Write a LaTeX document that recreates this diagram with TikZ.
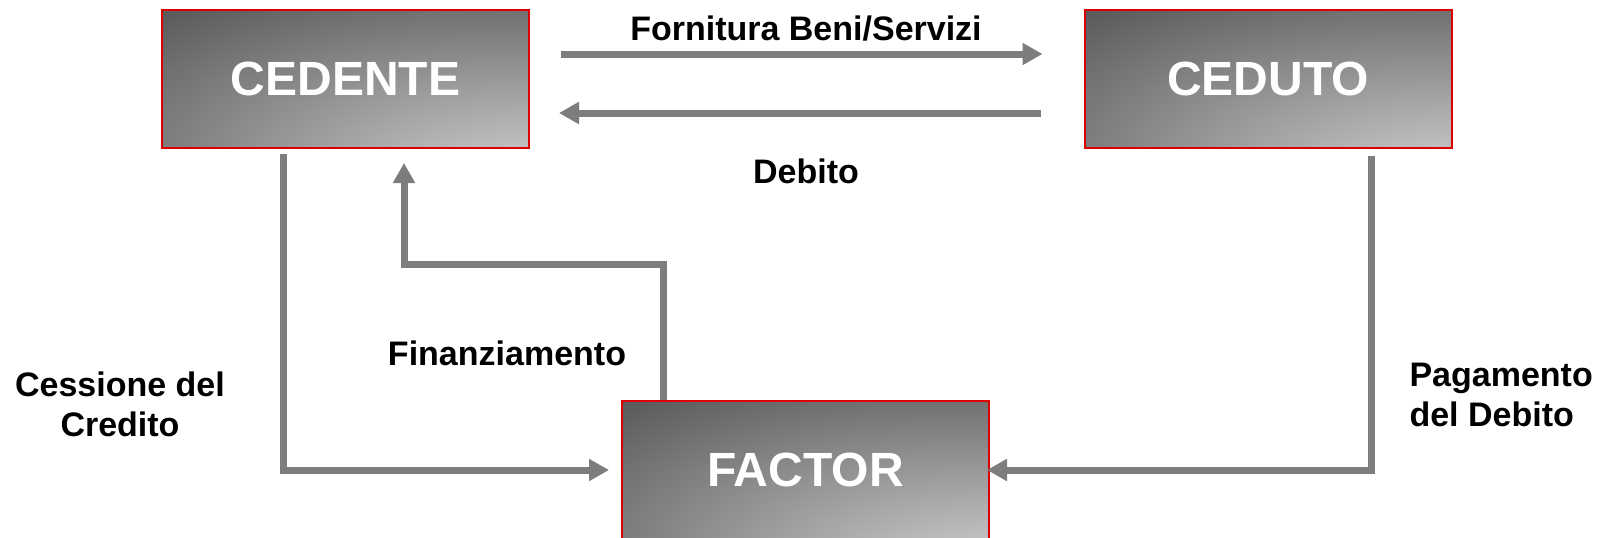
\documentclass[tikz,border=0pt]{standalone}
\usepackage{fontspec}
\setmainfont{Liberation Sans}
\usetikzlibrary{arrows.meta}
\definecolor{boxdark}{RGB}{92,92,92}
\definecolor{boxlight}{RGB}{192,192,192}
\definecolor{boxred}{RGB}{220,0,0}
\definecolor{flowgray}{RGB}{125,125,125}
\pgfdeclareradialshading{boxshade}{\pgfpoint{35bp}{-48bp}}{color(0bp)=(boxlight); color(16bp)=(boxlight); color(58bp)=(boxdark); color(100bp)=(boxdark)}

\begin{document}
\begin{tikzpicture}[x=1pt,y=-1pt,
  box/.style={draw=boxred,line width=2pt,shade,shading=boxshade,
    minimum width=367pt,minimum height=138pt,inner sep=0pt,text=white,font=\fontsize{48}{56}\selectfont\bfseries},
  flow/.style={draw=flowgray,line width=7pt,-{Triangle[length=20pt,width=21pt]}},
  lbl/.style={font=\fontsize{34}{40}\selectfont\bfseries}]
\useasboundingbox (0,0) rectangle (1599,538);
%\draw[help lines] (0,0) grid[step=100] (1599,538);
\node[box] (cedente) at (345.5,79) {CEDENTE};
\node[box] (ceduto) at (1268,79) {CEDUTO};
\node[box] (factor) at (805.5,470) {FACTOR};

\draw[flow,shorten <=31pt,shorten >=41pt] ([yshift=25pt]cedente.east) -- ([yshift=25pt]ceduto.west);
\draw[flow,shorten <=43pt,shorten >=29pt] ([yshift=-34pt]ceduto.west) -- ([yshift=-34pt]cedente.east);
\draw[flow,shorten <=5pt,shorten >=12pt] ([xshift=-62.5pt]cedente.south) |- (factor.west);
\draw[flow,shorten >=14pt] ([xshift=-142.5pt]factor.north) -- ++(0,-136) -| ([xshift=58.5pt]cedente.south);
\draw[flow,shorten <=7pt,shorten >=-3pt] ([xshift=103pt]ceduto.south) |- (factor.east);

\node[lbl] (fornitura) at (806,29) {Fornitura Beni/Servizi};
\node[lbl] (debito) at (806,171) {Debito};
\node[lbl] (finanz) at (507,353) {Finanziamento};
\node[lbl,align=center] (cessione) at (120,404) {Cessione del\\Credito};
\node[lbl,align=left,anchor=west] (pagamento) at (1406,395) {Pagamento\\del Debito};
\end{tikzpicture}
\end{document}
